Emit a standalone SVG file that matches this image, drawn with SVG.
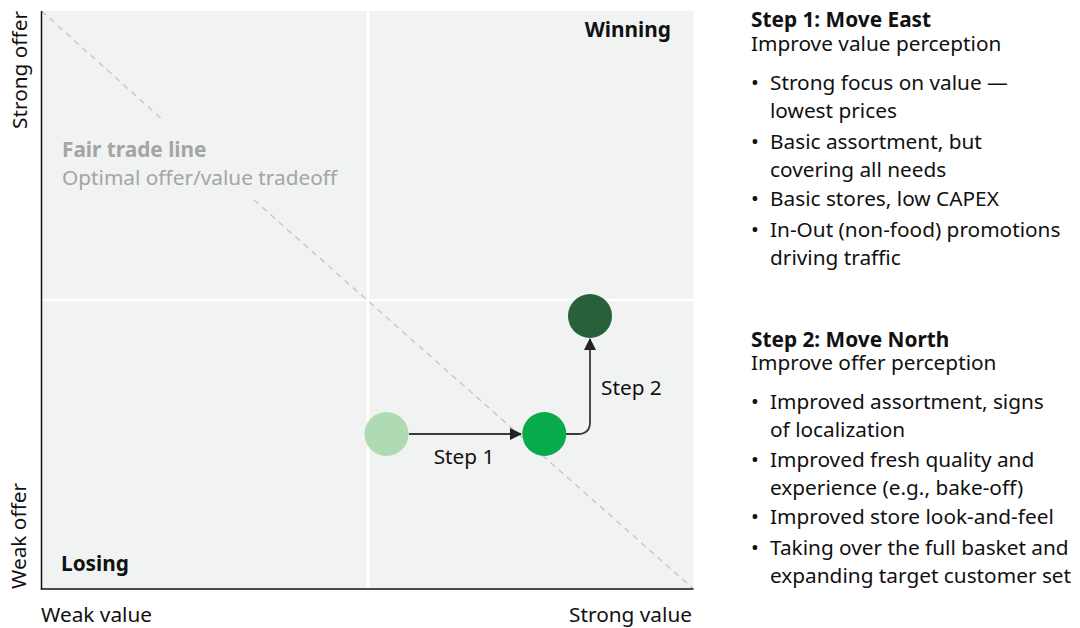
<svg xmlns="http://www.w3.org/2000/svg" width="1080" height="628" viewBox="0 0 1080 628">
<defs>
<style>
text{font-family:"Noto Sans","Open Sans","Liberation Sans",sans-serif;font-size:20.8px;fill:#111}
.b{font-weight:bold}
.g{fill:#a3a5a6}
.conn{fill:none;stroke:#3a3a3a;stroke-width:1.8}
</style>
<marker id="ah" viewBox="0 0 12 12" refX="11" refY="6" markerWidth="12" markerHeight="12" markerUnits="userSpaceOnUse" orient="auto">
<path d="M0,0 L12,6 L0,12 Z" fill="#222"/>
</marker>
</defs>
<rect width="1080" height="628" fill="#fff"/>
<g id="plot">
<rect x="41.5" y="11" width="652" height="578" fill="#f1f2f2"/>
<line x1="368" y1="11" x2="368" y2="589" stroke="#fff" stroke-width="2.5"/>
<line x1="41.5" y1="300" x2="693.5" y2="300" stroke="#fff" stroke-width="2.5"/>
<path d="M41.5,11 L164,121 M254,200 L693.5,589" stroke="#c2c4c5" stroke-width="1.3" stroke-dasharray="6,5" fill="none"/>
<line x1="41.5" y1="11" x2="41.5" y2="589.5" stroke="#111" stroke-width="1.5"/>
<line x1="40.8" y1="589" x2="693.5" y2="589" stroke="#111" stroke-width="1.5"/>
</g>
<g id="labels">
<text x="671" y="37" text-anchor="end" class="b">Winning</text>
<text x="61" y="571" class="b">Losing</text>
<text x="62" y="157" class="b g">Fair trade line</text>
<text x="62" y="185" class="g">Optimal offer/value tradeoff</text>
<text x="41" y="622">Weak value</text>
<text x="692" y="622" text-anchor="end">Strong value</text>
<text transform="translate(27,11) rotate(-90)" text-anchor="end">Strong offer</text>
<text transform="translate(26,589) rotate(-90)">Weak offer</text>
</g>
<g id="connectors">
<line class="conn" x1="409" y1="434" x2="521" y2="434" marker-end="url(#ah)"/>
<path class="conn" d="M566,434 H578 Q590,434 590,422 V339" marker-end="url(#ah)"/>
<text x="464" y="464" text-anchor="middle">Step 1</text>
<text x="601" y="395">Step 2</text>
</g>
<g id="node-start"><circle cx="386.5" cy="434" r="22" fill="#b0dab2"/></g>
<g id="node-step1"><circle cx="544.3" cy="434" r="22" fill="#07ab4a"/></g>
<g id="node-step2"><circle cx="590" cy="316" r="22" fill="#28603c"/></g>
<g id="step1-text">
<text x="751" y="27" class="b">Step 1: Move East</text>
<text x="751" y="51">Improve value perception</text>
<text x="751" y="90">•</text><text x="770" y="90">Strong focus on value —</text>
<text x="770" y="118">lowest prices</text>
<text x="751" y="149">•</text><text x="770" y="149">Basic assortment, but</text>
<text x="770" y="177">covering all needs</text>
<text x="751" y="206">•</text><text x="770" y="206">Basic stores, low CAPEX</text>
<text x="751" y="237">•</text><text x="770" y="237">In-Out (non-food) promotions</text>
<text x="770" y="265">driving traffic</text>
</g>
<g id="step2-text">
<text x="751" y="347" class="b">Step 2: Move North</text>
<text x="751" y="370">Improve offer perception</text>
<text x="751" y="409">•</text><text x="770" y="409">Improved assortment, signs</text>
<text x="770" y="437">of localization</text>
<text x="751" y="467">•</text><text x="770" y="467">Improved fresh quality and</text>
<text x="770" y="495">experience (e.g., bake-off)</text>
<text x="751" y="524">•</text><text x="770" y="524">Improved store look-and-feel</text>
<text x="751" y="555">•</text><text x="770" y="555">Taking over the full basket and</text>
<text x="770" y="583">expanding target customer set</text>
</g>
</svg>
